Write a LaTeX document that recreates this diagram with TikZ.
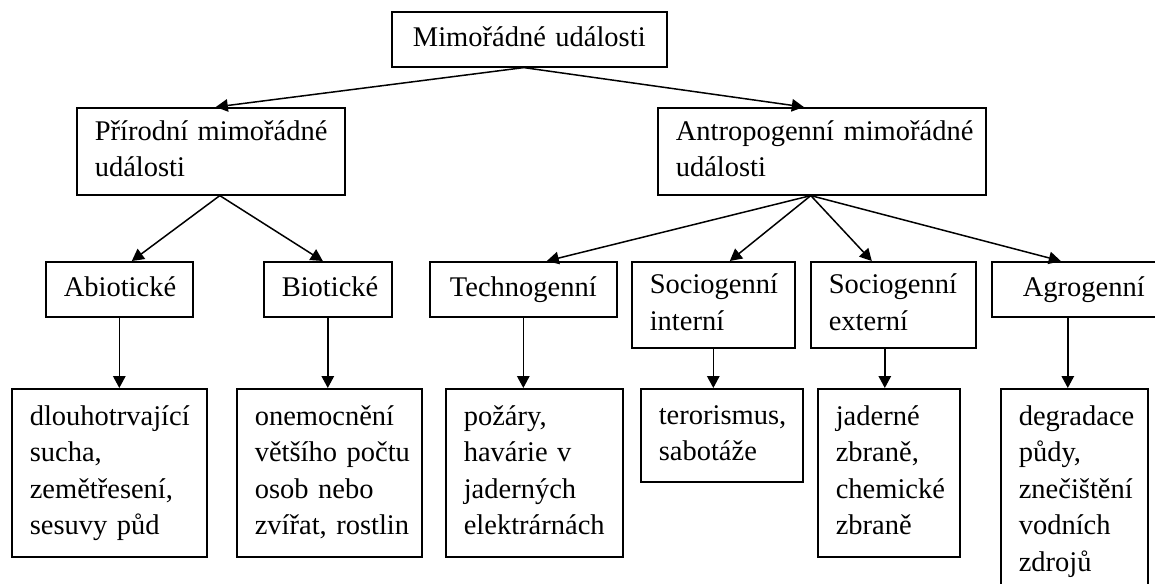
\documentclass[tikz,border=0pt]{standalone}
\usepackage{fontspec}
\setmainfont{Liberation Serif}
\usetikzlibrary{arrows.meta}
\hyphenpenalty=10000
\exhyphenpenalty=10000
\tikzset{
  box/.style={draw, line width=1.6pt, rectangle, anchor=north west, inner xsep=18pt, inner ysep=0pt,
    text height=21pt, font=\fontsize{28.5}{36.5}\selectfont},
  lbox/.style={box, align=left},
  cbox/.style={box, align=center},
  one/.style={text depth=7pt},
  two/.style={text depth=43.5pt},
  four/.style={text depth=116.5pt},
  five/.style={text depth=153pt},
  arr/.style={-{Triangle[length=12pt,width=12.5pt]}, line width=1.5pt}
}
\begin{document}
\begin{tikzpicture}[x=1pt,y=-1pt]
\useasboundingbox (0,0) rectangle (1155,583);
\clip (0,0) rectangle (1155,583);
\fill[white] (0,0) rectangle (1155,583);
% level 0
\node[cbox, one, text width=239pt, minimum height=55pt] (top) at (391,11) {Mimořádné události};
% level 1
\node[lbox, two, text width=232pt, minimum height=87pt] (prir) at (76,107) {Přírodní~mimořádné\\události};
\node[lbox, two, text width=292pt, minimum height=87pt] (antr) at (657,107) {Antropogenní~mimořádné\\události};
% level 2
\node[cbox, one, text width=111pt, minimum height=55pt] (abio) at (45,261) {Abiotické};
\node[cbox, one, text width=92pt, minimum height=55pt] (bio) at (263,261) {Biotické};
\node[cbox, one, text width=151pt, minimum height=55pt] (tech) at (429,261) {Technogenní};
\node[lbox, two, text width=127pt, minimum height=86pt] (sint) at (631,261) {Sociogenní\\interní};
\node[lbox, two, text width=129pt, minimum height=86pt] (sext) at (810,261) {Sociogenní\\externí};
\node[cbox, one, text width=148pt, minimum height=55pt] (agro) at (991,261) {Agrogenní};
% level 3
\node[lbox, four, text width=159pt, minimum height=168pt] (b1) at (11,388) {dlouhotrvající\\sucha,\\zemětřesení,\\sesuvy~půd};
\node[lbox, four, text width=149pt, minimum height=168pt] (b2) at (236,388) {onemocnění\\většího~počtu\\osob~nebo\\zvířat,~rostlin};
\node[lbox, four, text width=141pt, minimum height=168pt] (b3) at (445,388) {požáry,\\havárie~v\\jaderných\\elektrárnách};
\node[lbox, two, text width=126pt, minimum height=93pt] (b4) at (640,388) {terorismus,\\sabotáže};
\node[lbox, four, text width=106pt, minimum height=168pt] (b5) at (817,388) {jaderné\\zbraně,\\chemické\\zbraně};
\node[lbox, five, text width=111pt, minimum height=205pt] (b6) at (1000,388) {degradace\\půdy,\\znečištění\\vodních\\zdrojů};
% connectors level 0 -> 1
\coordinate (s0) at ([xshift=-5.5pt]top.south);
\draw[arr] (s0) -- ([xshift=5pt]prir.north);
\draw[arr] (s0) -- ([xshift=-18pt]antr.north);
% level 1 -> 2
\coordinate (s1) at ([xshift=9pt]prir.south);
\draw[arr] (s1) -- ([xshift=12.5pt]abio.north);
\draw[arr] (s1) -- ([xshift=-5pt]bio.north);
\coordinate (s2) at ([xshift=-11pt]antr.south);
\draw[arr] (s2) -- ([xshift=23.5pt]tech.north);
\draw[arr] (s2) -- ([xshift=16.5pt]sint.north);
\draw[arr] (s2) -- ([xshift=-21.5pt]sext.north);
\draw[arr] (s2) -- ([xshift=-23pt]agro.north);
% level 2 -> 3
\draw[arr] (abio.south) -- (abio.south |- b1.north);
\draw[arr] (bio.south) -- (bio.south |- b2.north);
\draw[arr] (tech.south) -- (tech.south |- b3.north);
\draw[arr] (sint.south) -- (sint.south |- b4.north);
\coordinate (s5) at ([xshift=-8.5pt]sext.south);
\draw[arr] (s5) -- (s5 |- b5.north);
\coordinate (s6) at ([xshift=-16pt]agro.south);
\draw[arr] (s6) -- (s6 |- b6.north);
\end{tikzpicture}
\end{document}
